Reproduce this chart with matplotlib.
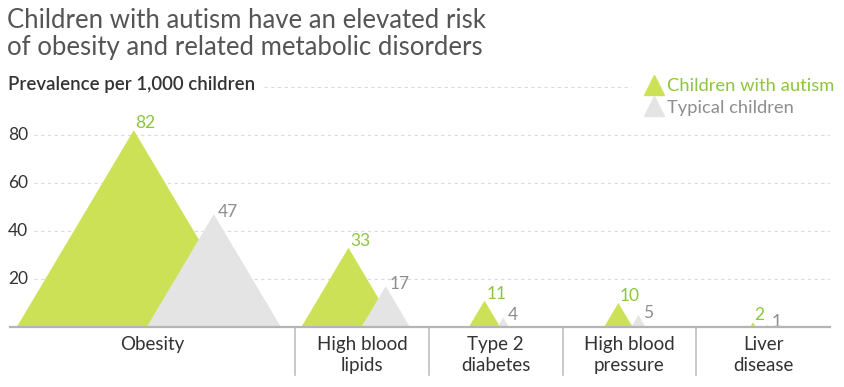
import numpy as np
import matplotlib.pyplot as plt
from matplotlib.patches import Polygon
from matplotlib.lines import Line2D

# Data (prevalence per 1,000 children)
categories = ["Obesity", "High blood\nlipids", "Type 2\ndiabetes", "High blood\npressure", "Liver\ndisease"]
autism = [82, 33, 11, 10, 2]
typical = [47, 17, 4, 5, 1]
y_ticks = [20, 40, 60, 80]

green = "#cde157"
green_text = "#8cc63f"
grey = "#e4e4e4"
grey_text = "#8e8e8e"
dark = "#333333"

# Layout: x axis runs in pixel-like units
k = 1.43          # half base width of a triangle per unit of value
gap = 13          # space between green apex and grey base
min_width = 134   # minimum category width
pad = 21

plt.rcParams['font.family'] = ['Lato', 'DejaVu Sans']

fig = plt.figure(figsize=(8.44, 3.87), dpi=100)
ax = fig.add_axes([10 / 844, 60 / 387, 820 / 844, 240 / 387])

# category widths from the size of the triangles
widths = []
for a, t in zip(autism, typical):
    extent = k * a + gap + 2 * k * t
    widths.append(max(min_width, extent + pad))
bounds = np.concatenate([[0], np.cumsum(widths)])
centers = (bounds[:-1] + bounds[1:]) / 2
total = bounds[-1]

ax.set_xlim(0, total)
ax.set_ylim(0, 100)
ax.axis('off')

# dashed grid
ax.hlines(y_ticks, 24, total, colors='#dadada', linestyles=(0, (3, 3)), lw=0.8, zorder=0)
ax.hlines(100, 255, 622, colors='#dadada', linestyles=(0, (3, 3)), lw=0.8, zorder=0)
for v in y_ticks:
    ax.text(-2, v, str(v), ha='left', va='center', fontsize=12.5, color=dark)

for i in range(len(categories)):
    hg = k * autism[i]
    hy = k * typical[i]
    gp = centers[i] - 10 - 0.075 * hg
    yp = gp + gap + hy
    ax.add_patch(Polygon([[gp - hg, 0], [gp, autism[i]], [gp + hg, 0]],
                         closed=True, facecolor=green, edgecolor='none', zorder=2))
    ax.add_patch(Polygon([[yp - hy, 0], [yp, typical[i]], [yp + hy, 0]],
                         closed=True, facecolor=grey, edgecolor='none', zorder=3))
    ax.annotate(str(autism[i]), (gp, autism[i]), xytext=(1.2, 1.5), textcoords='offset points',
                ha='left', va='baseline', fontsize=12.5, color=green_text, zorder=4)
    ax.annotate(str(typical[i]), (yp, typical[i]), xytext=(3, -2), textcoords='offset points',
                ha='left', va='baseline', fontsize=12.5, color=grey_text, zorder=4)
    ax.text(centers[i], -3.8, categories[i], ha='center', va='top', fontsize=13.5,
            color=dark, linespacing=1.3)

# baseline and separators
ax.plot([0, total], [0, 0], color='#b5b5b5', lw=1.6, clip_on=False, zorder=5)
for b in bounds[1:-1]:
    ax.plot([b, b], [0, -20], color='#c0c0c0', lw=1.2, clip_on=False)

ax.text(-2, 98.6, "Prevalence per 1,000 children", ha='left', va='baseline',
        fontsize=13.4, fontweight='semibold', color=dark)

fig.text(7 / 844, 1 - 8 / 387,
         "Children with autism have an elevated risk\nof obesity and related metabolic disorders",
         ha='left', va='top', fontsize=18.5, fontweight='normal', color='#555555', linespacing=1.12)

handles = [Line2D([], [], marker='^', ls='', color=green, ms=15, label='Children with autism'),
           Line2D([], [], marker='^', ls='', color=grey, ms=15, label='Typical children')]
ax.legend(handles=handles, loc='upper left', bbox_to_anchor=(634 / 844, 1 - 69 / 387),
          bbox_transform=fig.transFigure, frameon=False, borderpad=0, handletextpad=0.1,
          handlelength=1.2, labelspacing=0.3, fontsize=13.2,
          labelcolor=[green_text, grey_text])

fig.savefig("out.png", dpi=100)
